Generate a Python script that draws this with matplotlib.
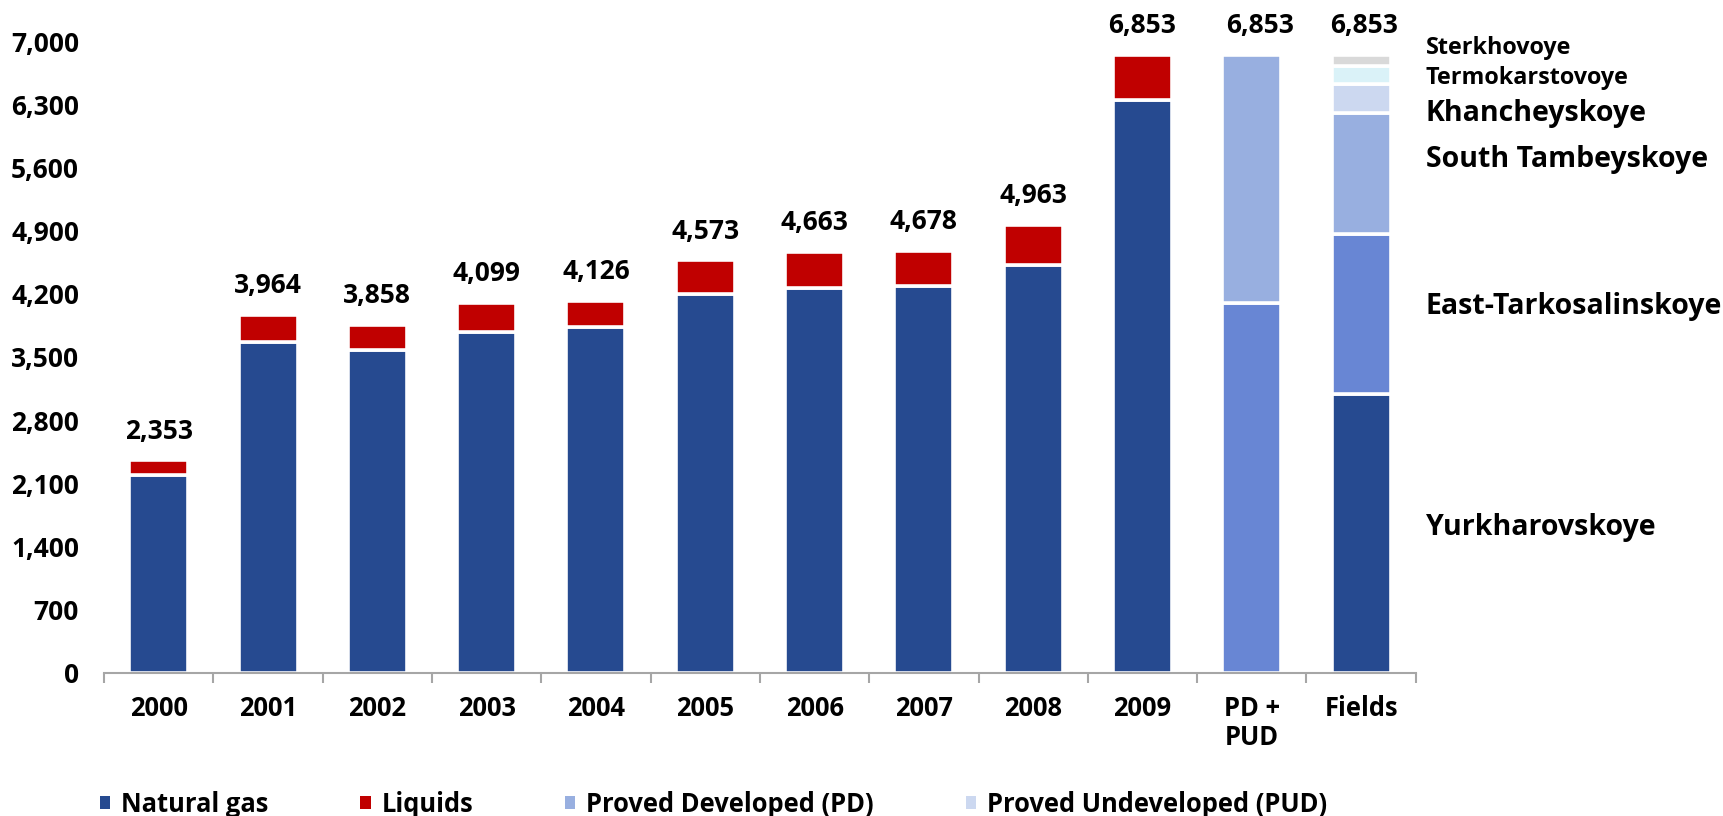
import matplotlib
matplotlib.use('Agg')
import matplotlib.pyplot as plt
import numpy as np
from matplotlib.patches import Patch
from matplotlib.ticker import FuncFormatter, MultipleLocator

plt.rcParams['font.family'] = ['Open Sans', 'DejaVu Sans']
plt.rcParams['font.weight'] = 'bold'

# ---------------- data ----------------
categories = ['2000', '2001', '2002', '2003', '2004', '2005', '2006', '2007',
              '2008', '2009', 'PD +\nPUD', 'Fields']
natural_gas = [2195, 3670, 3573, 3777, 3836, 4198, 4265, 4283, 4520, 6345]
liquids = [158, 294, 285, 322, 290, 375, 398, 395, 443, 508]
proved_developed = 4100
proved_undeveloped = 2753
field_names = ['Yurkharovskoye', 'East-Tarkosalinskoye', 'South Tambeyskoye',
               'Khancheyskoye', 'Termokarstovoye', 'Sterkhovoye']
field_values = [3095, 1774, 1334, 318, 201, 131]
legend_labels = ['Natural gas', 'Liquids', 'Proved Developed (PD)',
                 'Proved Undeveloped (PUD)']

# ---------------- style ----------------
C_GAS = '#264A90'
C_LIQ = '#C00000'
C_MED = '#6886D4'
C_LIGHT = '#98AFE0'
C_VLIGHT = '#CCD8F0'
C_CYAN = '#DAF2F8'
C_GRAY = '#D9D9D9'
field_colors = [C_GAS, C_MED, C_LIGHT, C_VLIGHT, C_CYAN, C_GRAY]
field_label_y = [1530, 3977, 5602, 6120, 6527, 6859]
field_label_size = [20.5, 20.5, 20.5, 20.5, 16.8, 16.8]
value_label_dx = [0, 0, 0, 0, 0, 0, 0, 0, 0, 0, 6, 2]
AXIS_GRAY = '#A6A6A6'

fig = plt.figure(figsize=(17.23, 8.16), dpi=100)
ax = fig.add_axes([0.0604, 0.1756, 0.7613, 0.7738])

x = np.arange(len(categories))
W = 0.54
EDGE = dict(edgecolor='white', linewidth=2.6)

ax.bar(x[:10], natural_gas, W, color=C_GAS, **EDGE)
ax.bar(x[:10], liquids, W, bottom=natural_gas, color=C_LIQ, **EDGE)
ax.bar(x[10], proved_developed, W, color=C_MED, **EDGE)
ax.bar(x[10], proved_undeveloped, W, bottom=proved_developed, color=C_LIGHT, **EDGE)
bottom = 0
for val, col in zip(field_values, field_colors):
    ax.bar(x[11], val, W, bottom=bottom, color=col, **EDGE)
    bottom += val

totals = [g + l for g, l in zip(natural_gas, liquids)]
totals.append(proved_developed + proved_undeveloped)
totals.append(sum(field_values))
for xi, t, dx in zip(x, totals, value_label_dx):
    ax.annotate(f'{t:,}', (xi, t), xytext=(dx, 21), textcoords='offset points',
                ha='center', va='center', fontsize=19, fontweight='bold',
                annotation_clip=False)

for name, yv, fs in zip(field_names, field_label_y, field_label_size):
    ax.text(11.59, yv, name, ha='left', va='baseline', fontsize=fs,
            fontweight='bold', clip_on=False)

ax.set_xlim(-0.5, 11.5)
ax.set_ylim(0, 7000)
ax.yaxis.set_major_locator(MultipleLocator(700))
ax.yaxis.set_major_formatter(FuncFormatter(lambda v, p: f'{int(v):,}'))
ax.tick_params(axis='y', length=0, pad=18, labelsize=19)

ax.set_xticks(x)
ax.set_xticklabels(categories, linespacing=1.1)
ax.tick_params(axis='x', which='major', length=0, pad=16, labelsize=18.4)
ax.set_xticks(np.arange(-0.5, 12, 1), minor=True)
ax.tick_params(axis='x', which='minor', length=7.2, width=1.5,
               color=AXIS_GRAY, direction='out')

for s in ['left', 'top', 'right']:
    ax.spines[s].set_visible(False)
ax.spines['bottom'].set_color(AXIS_GRAY)
ax.spines['bottom'].set_linewidth(1.5)

handles = [Patch(facecolor=C_GAS), Patch(facecolor=C_LIQ),
           Patch(facecolor=C_LIGHT), Patch(facecolor=C_VLIGHT)]
fig.legend(handles, legend_labels, loc='center left',
           bbox_to_anchor=(100 / 1723, 1 - 804 / 816), ncol=4, frameon=False,
           fontsize=18.4, handlelength=0.4, handleheight=0.4,
           handletextpad=0.42, columnspacing=3.6, borderpad=0,
           borderaxespad=0)

fig.savefig('out.png', dpi=100)
